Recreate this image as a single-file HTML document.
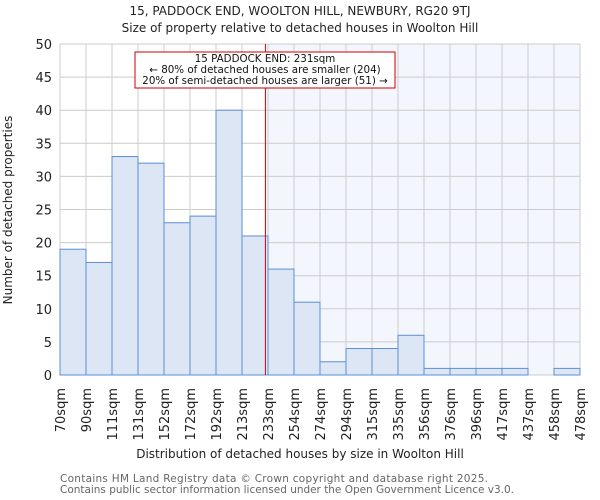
<!DOCTYPE html>
<html><head><meta charset="utf-8"><style>
body{margin:0;background:#fff}
svg{font-family:"DejaVu Sans","Liberation Sans",sans-serif;display:block}
</style></head><body>
<svg id="chart" width="600" height="500">
<text x="300" y="15" text-anchor="middle" font-size="12" fill="#222">15, PADDOCK END, WOOLTON HILL, NEWBURY, RG20 9TJ</text>
<text x="300" y="32" text-anchor="middle" font-size="12" fill="#222">Size of property relative to detached houses in Woolton Hill</text>
<g id="plot"></g>
<text x="300" y="458" text-anchor="middle" font-size="12" fill="#222">Distribution of detached houses by size in Woolton Hill</text>
<text transform="translate(12,210) rotate(-90)" text-anchor="middle" font-size="12" fill="#222">Number of detached properties</text>
<text x="60" y="482" font-size="10.5" textLength="428" fill="#666">Contains HM Land Registry data © Crown copyright and database right 2025.</text>
<text x="60" y="493" font-size="10.5" textLength="454" fill="#666">Contains public sector information licensed under the Open Government Licence v3.0.</text>
</svg>
<script>
const categories=["70sqm","90sqm","111sqm","131sqm","152sqm","172sqm","192sqm","213sqm","233sqm","254sqm","274sqm","294sqm","315sqm","335sqm","356sqm","376sqm","396sqm","417sqm","437sqm","458sqm","478sqm"];
const counts=[19,17,33,32,23,24,40,21,16,11,2,4,4,6,1,1,1,1,0,1];
const yTicks=[0,5,10,15,20,25,30,35,40,45,50];
const markerIndex=7.9;
const NS="http://www.w3.org/2000/svg";
const L=60,R=580,T=44,B=375,yMax=50;
const n=counts.length,bw=(R-L)/n;
const x=i=>L+i*bw, y=v=>B-(v/yMax)*(B-T);
const g=document.getElementById('plot');
function mk(t,a){const e=document.createElementNS(NS,t);for(const k in a)e.setAttribute(k,a[k]);g.appendChild(e);return e;}
const mx=x(markerIndex);
let e=mk('rect',{x:mx,y:T,width:R-mx,height:B-T,fill:'#f4f6fd'});


yTicks.forEach(v=>{
 let l=mk('line',{x1:L,x2:R,y1:y(v),y2:y(v),stroke:'#ccc'});
 
 
 let t=mk('text',{x:L-8,y:y(v)+5,'text-anchor':'end','font-size':13,fill:'#222'});t.textContent=v;
 
 
});
for(let i=0;i<=n;i++){
 let l=mk('line',{x1:x(i),x2:x(i),y1:T,y2:B,stroke:'#ccc'});
 
 
}
counts.forEach((v,i)=>{
 if(v<=0)return;
 let r=mk('rect',{x:x(i),y:y(v),width:bw,height:B-y(v),fill:'#dce6f5',stroke:'#5b8fd6','stroke-width':1});
 
 
});
categories.forEach((c,i)=>{
 let t=mk('text',{transform:`translate(${x(i)+5},388) rotate(-90)`,'text-anchor':'end','font-size':13,fill:'#222'});t.textContent=c;
 
 
});
e=mk('line',{x1:mx,x2:mx,y1:T,y2:B,stroke:'#c00','stroke-width':1});


e=mk('rect',{x:135,y:52,width:260,height:36,fill:'#fff',stroke:'#c00'});


["15 PADDOCK END: 231sqm","← 80% of detached houses are smaller (204)","20% of semi-detached houses are larger (51) →"].forEach((s,i)=>{
 let t=mk('text',{x:265,y:62+i*11,'text-anchor':'middle','font-size':10.3,fill:'#111'});t.textContent=s;
 
 
});
</script>
</body></html>
